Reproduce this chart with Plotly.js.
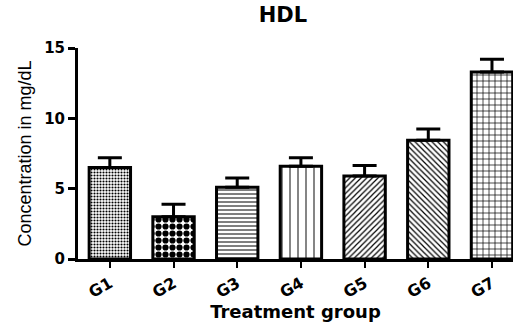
<!DOCTYPE html>
<html>
<head>
<meta charset="utf-8">
<script src="https://cdn.plot.ly/plotly-3.0.1.min.js"></script>
<style>html,body{margin:0;padding:0;background:#fff;}#chart{width:513px;height:322px;}</style>
</head>
<body>
<div id="chart"></div>
<script>
const groups = ["G1", "G2", "G3", "G4", "G5", "G6", "G7"];
const hdlMean = [6.5, 3.0, 5.1, 6.6, 5.9, 8.45, 13.3];
const hdlErr = [0.7, 0.9, 0.65, 0.6, 0.75, 0.8, 0.9];
const yTicks = [0, 5, 10, 15];

const shapes = [".", ".", "-", "|", "/", "\\", "+"];
const sizes = [3, 7, 4, 8, 4, 4, 6];
const solid = [0.4, 0.62, 0.25, 0.12, 0.3, 0.3, 0.22];

const trace = {
  type: "bar",
  x: groups,
  y: hdlMean,
  width: 0.65,
  marker: {
    color: "#ffffff",
    line: {color: "#000000", width: 3},
    pattern: {shape: shapes, size: sizes, solidity: solid, fgcolor: "#000000", bgcolor: "#ffffff", fillmode: "replace"}
  },
  error_y: {
    type: "data",
    symmetric: false,
    array: hdlErr,
    arrayminus: hdlErr.map(() => 0),
    color: "#000000",
    thickness: 3,
    width: 12
  },
  hoverinfo: "skip"
};

const layout = {
  width: 513,
  height: 322,
  margin: {l: 78, r: 0, t: 48, b: 63},
  paper_bgcolor: "#ffffff",
  plot_bgcolor: "#ffffff",
  showlegend: false,
  title: {
    text: "<b>HDL</b>",
    font: {family: "DejaVu Sans", size: 21, color: "#000"},
    x: 283 / 513,
    xanchor: "center",
    y: 1 - 15 / 322,
    yanchor: "middle",
    xref: "container",
    yref: "container"
  },
  xaxis: {
    type: "category",
    range: [-0.5, 6.33],
    showline: true,
    linecolor: "#000",
    linewidth: 3,
    ticks: "outside",
    ticklen: 6,
    tickwidth: 2,
    tickcolor: "#000",
    tickangle: -30,
    tickfont: {family: "DejaVu Sans", size: 16, color: "#000", weight: "bold"},
    showgrid: false,
    zeroline: false,
    title: {
      text: "<b>Treatment group</b>",
      font: {family: "DejaVu Sans", size: 18, color: "#000"},
      standoff: 6
    }
  },
  yaxis: {
    range: [0, 15],
    tickvals: yTicks,
    ticktext: yTicks.map(String),
    showline: true,
    linecolor: "#000",
    linewidth: 3,
    ticks: "outside",
    ticklen: 7,
    tickwidth: 3,
    tickcolor: "#000",
    tickfont: {family: "DejaVu Sans", size: 15, color: "#000", weight: "bold"},
    showgrid: false,
    zeroline: false,
    title: {
      text: "Concentration in mg/dL",
      font: {family: "Liberation Sans, Arial, sans-serif", size: 18, color: "#000"},
      standoff: 8
    }
  }
};

Plotly.newPlot("chart", [trace], layout, {displayModeBar: false, staticPlot: true});
</script>
</body>
</html>
